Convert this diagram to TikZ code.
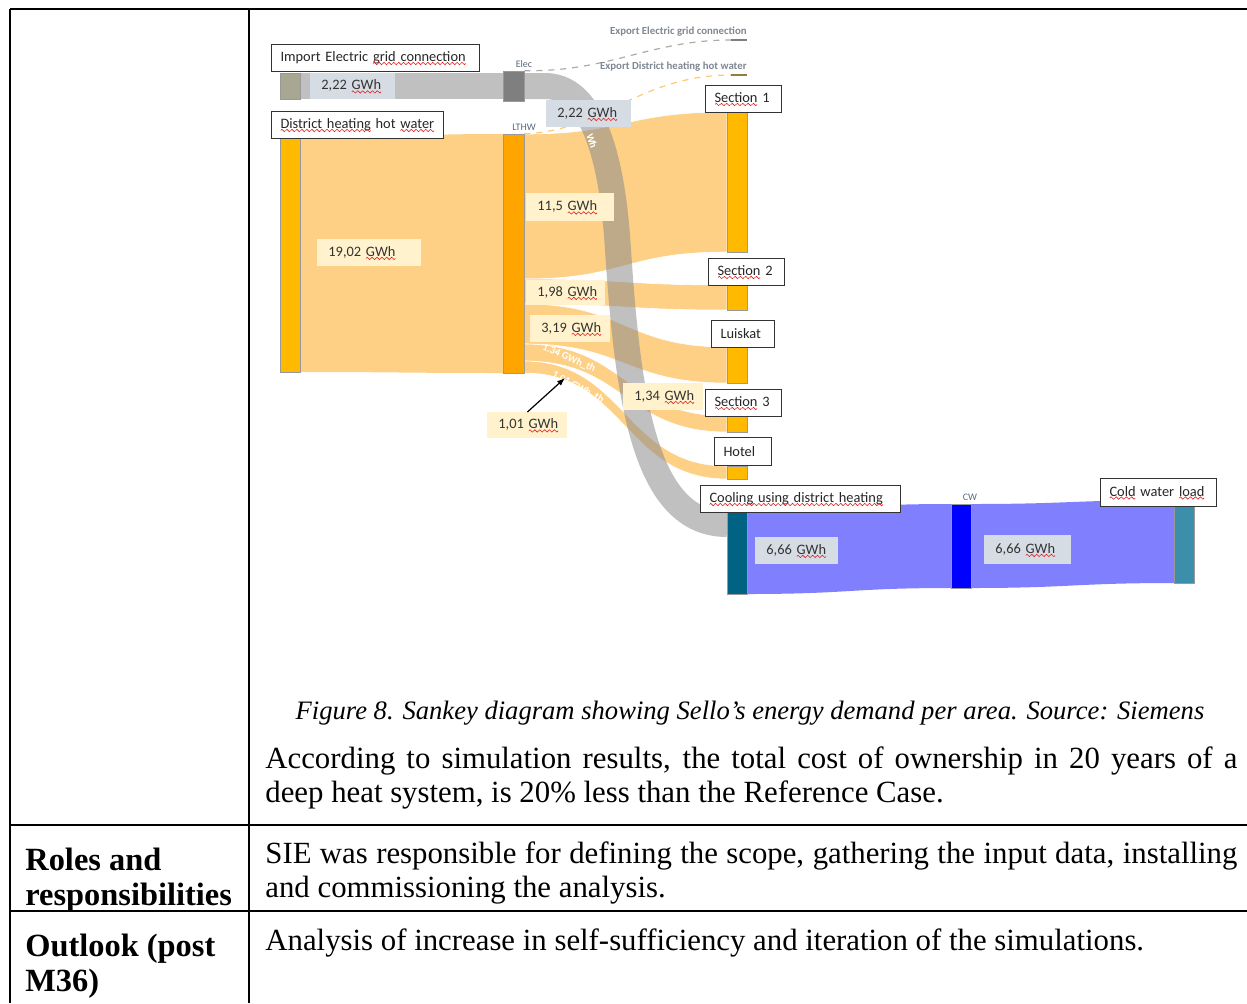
\documentclass[tikz,border=0pt]{standalone}
\usepackage{fontspec}
\setmainfont{Liberation Serif}
\newfontfamily\lblfont{Carlito}
\usetikzlibrary{arrows.meta}
\definecolor{bandorange}{HTML}{FDD086}
\definecolor{dhyellow}{HTML}{FFBA00}
\definecolor{lthworange}{HTML}{FFA500}
\definecolor{bandgray}{HTML}{8C8C8C}
\definecolor{importkhaki}{HTML}{A8A791}
\definecolor{elecgray}{HTML}{7F7F7F}
\definecolor{creambox}{HTML}{FFF2CC}
\definecolor{bluebox}{HTML}{D6DCE4}
\definecolor{blueband}{HTML}{8080FF}
\definecolor{cwblue}{HTML}{0000FF}
\definecolor{cooldark}{HTML}{006383}
\definecolor{coldteal}{HTML}{3B8FAA}
\definecolor{slate}{HTML}{596A7E}
\definecolor{exporttxt}{HTML}{7F8791}
\definecolor{dashgray}{HTML}{ABABAB}
\definecolor{dashorange}{HTML}{FFC870}
\definecolor{heatline}{HTML}{8F7F3A}
\definecolor{squig}{HTML}{E02020}
\newcommand{\lbl}{\lblfont\fontsize{7.2}{8.6}\selectfont}
% red spell-check wave under words
\newsavebox\wavebox
\newsavebox\rwtxt
\sbox\wavebox{%
  \begin{pgfpicture}%
    \pgfpathmoveto{\pgfpoint{0pt}{0pt}}%
    \pgfpathcurveto{\pgfpoint{0.45pt}{0.8pt}}{\pgfpoint{0.75pt}{0.8pt}}{\pgfpoint{1.2pt}{0pt}}%
    \pgfpathcurveto{\pgfpoint{1.65pt}{-0.8pt}}{\pgfpoint{1.95pt}{-0.8pt}}{\pgfpoint{2.4pt}{0pt}}%
    \pgfsetlinewidth{0.3pt}%
    \pgfsetstrokecolor{squig}%
    \pgfusepath{stroke}%
    \pgfresetboundingbox
    \pgfpathrectangle{\pgfpoint{0pt}{-0.5pt}}{\pgfpoint{2.4pt}{1pt}}\pgfusepath{use as bounding box}%
  \end{pgfpicture}}
\newcommand{\rw}[1]{\sbox\rwtxt{#1}\rlap{\usebox\rwtxt}\raisebox{-1.5pt}{\hbox to \wd\rwtxt{\xleaders\copy\wavebox\hfill}}}
\newcommand{\oflow}[4]{\fill[oband] (524,#1) .. controls (625,#1) and (625,#3) .. (727,#3) -- (727,#4) .. controls (625,#4) and (625,#2) .. (524,#2) -- cycle;}
\tikzset{
  tbl/.style={line width=1.25pt, black},
  bodytxt/.style={inner sep=0pt, anchor=base west, font=\fontsize{15.4}{18}\selectfont},
  headtxt/.style={bodytxt, font=\fontsize{16.2}{19}\selectfont\bfseries},
  captxt/.style={inner sep=0pt, anchor=base, font=\fontsize{13.3}{16}\selectfont\itshape},
  nodebox/.style={anchor=north west, draw=black!80, fill=white, line width=0.5pt, inner xsep=4.5pt, inner ysep=0pt, minimum height=13.5pt, align=left, font=\lbl, text=black!85},
  valbox/.style={anchor=north west, inner xsep=5.5pt, inner ysep=0pt, align=left, font=\lbl, text=black!80},
  barnode/.style={draw=black!40, line width=0.3pt, inner sep=0pt, minimum width=10pt},
  oband/.style={fill=bandorange, draw=white, line width=0.3pt},
  tinylbl/.style={inner sep=0pt, font=\lblfont\fontsize{5}{6}\selectfont, text=slate},
  exportlbl/.style={inner sep=0pt, anchor=east, font=\lblfont\fontsize{5.4}{6}\selectfont\bfseries, text=exporttxt},
  flowtxt/.style={inner sep=0pt, text=white, font=\lblfont\fontsize{5.2}{6}\selectfont\bfseries},
}
\begin{document}
\begin{tikzpicture}[x=0.5pt,y=-0.5pt]
\useasboundingbox (0,0) rectangle (1247,1003);
% table frame
\draw[tbl] (10,9) -- (1247,9);
\draw[tbl] (10,9) -- (10,1003);
\draw[tbl] (249,9) -- (249,1003);
\draw[tbl] (10,825) -- (1247,825);
\draw[tbl] (10,911) -- (1247,911);
% heat flows
\fill[bandorange] (300,138) .. controls (400,138) and (400,134) .. (503,134) -- (503,373) .. controls (400,373) and (400,372) .. (300,372) -- cycle;
\oflow{134}{279}{112}{252}
\oflow{279}{304}{285}{310}
\oflow{304}{344}{347}{383}
\oflow{344}{361}{416}{432}
\oflow{361}{373}{466}{479}
% cooling flows
\fill[blueband] (747,510) .. controls (850,510) and (850,504) .. (951,504) -- (951,588) .. controls (850,588) and (850,594) .. (747,594) -- cycle;
\fill[blueband] (971,504) .. controls (1070,504) and (1075,500) .. (1174,500) -- (1174,583) .. controls (1075,583) and (1070,588) .. (971,588) -- cycle;
% electricity flows
\fill[bandgray, opacity=0.55] (300,73) rectangle (503,99);
\draw[bandgray, opacity=0.55, line width=13pt] (524,86) -- (545,86) .. controls (590,86) and (612,150) .. (618,250) .. controls (628,400) and (645,524) .. (727,524);
\node[flowtxt, rotate=-72] (gwhrot) at (592,141) {Wh};
\node[flowtxt, rotate=-24] (f134) at (569,358) {1.34 GWh\_th};
\node[flowtxt, rotate=-28] (f101) at (578,387) {1.01 GWh\_th};
% bars
\node[barnode, fill=importkhaki, minimum height=13pt] (impb) at (290,86) {};
\node[barnode, fill=dhyellow, minimum height=117pt] (dhb) at (290,255) {};
\node[barnode, fill=elecgray, minimum width=10.5pt, minimum height=15pt] (elec) at (513.5,86) {};
\node[barnode, fill=lthworange, minimum width=10.5pt, minimum height=119.5pt] (lthw) at (513.5,253.5) {};
\node[barnode, fill=dhyellow, minimum height=70pt] (s1b) at (737,182) {};
\node[barnode, fill=dhyellow, minimum height=12.5pt] (s2b) at (737,297.5) {};
\node[barnode, fill=dhyellow, minimum height=18pt] (lub) at (737,365) {};
\node[barnode, fill=dhyellow, minimum height=8pt] (s3b) at (737,424) {};
\node[barnode, fill=dhyellow, minimum height=6.5pt] (hob) at (737,472.5) {};
\node[barnode, fill=cooldark, minimum height=41pt] (coolb) at (737,553) {};
\node[barnode, fill=cwblue, minimum height=42pt] (cwb) at (961,546) {};
\node[barnode, fill=coldteal, minimum height=39pt] (coldb) at (1184,544) {};
% exports
\coordinate (exEl) at (731,40);
\coordinate (exDh) at (731,75);
\draw[dashgray, dashed, line width=0.6pt] (elec.north east) .. controls (610,72) and (650,40) .. (exEl);
\draw[dashorange, dashed, line width=0.6pt] (lthw.north east) .. controls (600,132) and (640,75) .. (exDh);
\draw[elecgray, line width=1.4pt] (exEl) -- ++(16,0);
\draw[heatline, line width=1.4pt] (exDh) -- ++(16,0);
\node[exportlbl] (exElt) at (747,32) {Export Electric grid connection};
\node[exportlbl] (exDht) at (747,67) {Export District heating hot water};
\node[tinylbl] (elect) at (524,64) {Elec};
\node[tinylbl] (lthwt) at (524,127) {LTHW};
\node[tinylbl] (cwt) at (970,497) {CW};
% values
\node[valbox, fill=bluebox, text width=31.5pt, minimum height=13pt] (v222a) at (310,73) {\mbox{2,22 \rw{GWh}}};
\node[valbox, fill=bluebox, text width=31.5pt, minimum height=13.5pt] (v222b) at (546,100) {\mbox{2,22 \rw{GWh}}};
\node[valbox, fill=creambox, text width=41pt, minimum height=13.5pt] (v1902) at (317,239) {\mbox{19,02 \rw{GWh}}};
\node[valbox, fill=creambox, text width=33pt, minimum height=14pt] (v115) at (526,193) {\mbox{11,5 \rw{GWh}}};
\node[valbox, fill=creambox, text width=28.5pt, minimum height=12.5pt] (v198) at (526,280) {\mbox{1,98 \rw{GWh}}};
\node[valbox, fill=creambox, text width=29pt, minimum height=13.5pt] (v319) at (530,315) {\mbox{3,19 \rw{GWh}}};
\node[valbox, fill=creambox, text width=29pt, minimum height=13pt] (v101) at (487,412) {\mbox{1,01 \rw{GWh}}};
\node[valbox, fill=creambox, text width=29pt, minimum height=13.5pt] (v134) at (623,383) {\mbox{1,34 \rw{GWh}}};
\node[valbox, fill=bluebox, text width=30.5pt, minimum height=13.5pt] (v666a) at (755,537) {\mbox{6,66 \rw{GWh}}};
\node[valbox, fill=bluebox, text width=32.5pt, minimum height=14.5pt] (v666b) at (984,535) {\mbox{6,66 \rw{GWh}}};
\coordinate (a101) at (565,378);
\draw[-{Latex[length=4pt,width=3pt]}, line width=0.6pt] (v101.north) -- (a101);
% area labels
\node[nodebox, text width=95pt] (imp) at (271,44) {Import Electric \rw{grid connection}};
\node[nodebox, text width=77pt] (dh) at (271,111) {\rw{District heating} hot \rw{water}};
\node[nodebox, text width=29pt] (s1) at (705,85) {\rw{Section} 1};
\node[nodebox, text width=29pt] (s2) at (708,258) {\rw{Section} 2};
\node[nodebox, text width=22.5pt] (lu) at (711,320) {Luiskat};
\node[nodebox, text width=29pt] (s3) at (705,389) {\rw{Section} 3};
\node[nodebox, text width=19.5pt, minimum height=14pt] (ho) at (714,437) {Hotel};
\node[nodebox, text width=91pt] (cool) at (700,485) {\rw{Cooling using district heating}};
\node[nodebox, text width=49pt, minimum height=14pt] (cold) at (1100,478) {\rw{Cold} water \rw{load}};
% text of the table
\node[captxt] (cap) at (750,719) {Figure 8. Sankey diagram showing Sello’s energy demand per area. Source: Siemens};
\node[bodytxt] (p1) at (265,768) {\makebox[486pt][s]{According to simulation results, the total cost of ownership in 20 years of a}};
\node[bodytxt] (p2) at (265,802) {deep heat system, is 20\% less than the Reference Case.};
\node[headtxt] (h1) at (25,870) {Roles and};
\node[headtxt] (h2) at (25,905) {responsibilities};
\node[bodytxt] (r1) at (265,863) {\makebox[486pt][s]{SIE was responsible for defining the scope, gathering the input data, installing}};
\node[bodytxt] (r2) at (265,897) {and commissioning the analysis.};
\node[headtxt] (h3) at (25,956) {Outlook (post};
\node[headtxt] (h4) at (25,991) {M36)};
\node[bodytxt] (o1) at (265,950) {Analysis of increase in self-sufficiency and iteration of the simulations.};
\end{tikzpicture}
\end{document}
